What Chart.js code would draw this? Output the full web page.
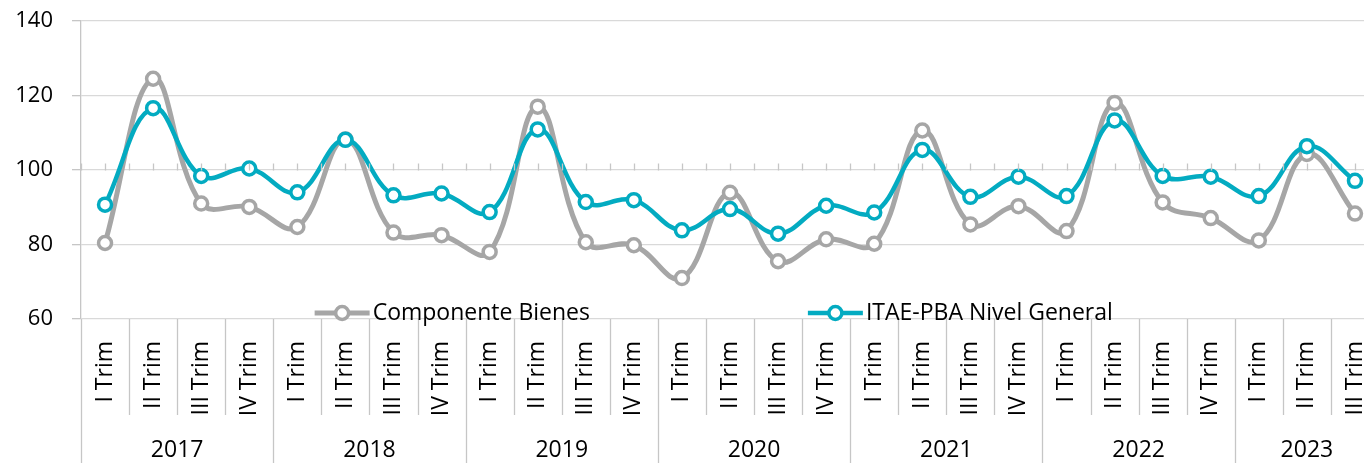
<!DOCTYPE html>
<html>
<head>
<meta charset="utf-8">
<script src="https://cdn.jsdelivr.net/npm/chart.js@4"></script>
<style>
  html, body { margin: 0; padding: 0; background: #fff; overflow: hidden; }
  #wrap { width: 1364px; height: 463px; overflow: hidden; position: relative; }
</style>
</head>
<body>
<div id="wrap"><canvas id="chart" width="1389" height="463"></canvas></div>
<script>
// data
const years = ["2017", "2018", "2019", "2020", "2021", "2022", "2023"];
const quarters = ["I Trim", "II Trim", "III Trim", "IV Trim"];
const quartersPerYear = [4, 4, 4, 4, 4, 4, 3];

const bienes = [
  80.4, 124.5, 91.0, 90.1,
  84.7, 108.2, 83.2, 82.5,
  78.0, 117.0, 80.6, 79.8,
  71.0, 93.9, 75.5, 81.4,
  80.2, 110.6, 85.4, 90.3,
  83.6, 118.0, 91.3, 87.1,
  81.1, 104.3, 88.3
];
const general = [
  90.7, 116.6, 98.4, 100.4,
  94.0, 108.1, 93.2, 93.7,
  88.7, 110.9, 91.4, 91.9,
  83.8, 89.5, 82.9, 90.4,
  88.6, 105.4, 92.8, 98.2,
  93.0, 113.3, 98.4, 98.2,
  93.0, 106.4, 97.1
];

const labels = [];
quartersPerYear.forEach((n) => {
  for (let q = 0; q < n; q++) labels.push(quarters[q]);
});

const FONT = "'Open Sans', sans-serif";
const GRAY = "#A6A6A6";
const TEAL = "#03ABC1";
const LINE = "#C6C6C6";

// year row, separators and the little ticks on the 100 line
const groupAxis = {
  id: "groupAxis",
  afterDraw(chart) {
    const ctx = chart.ctx;
    const x = chart.scales.x;
    const y = chart.scales.y;
    const base = y.getPixelForValue(60);
    const bottom = chart.height;
    const n = labels.length;

    const yearEdges = [0];
    quartersPerYear.forEach((c, i) => yearEdges.push(yearEdges[i] + c));

    ctx.save();
    ctx.strokeStyle = LINE;
    ctx.lineWidth = 1.3;
    for (let k = 0; k <= n; k++) {
      const px = Math.round(x.getPixelForValue(k - 0.5)) + 0.5;
      const long = yearEdges.includes(k);
      ctx.beginPath();
      ctx.moveTo(px, base);
      ctx.lineTo(px, long ? bottom : base + 96);
      ctx.stroke();
    }

    // tick marks sitting on the 100 line
    const y100 = Math.round(y.getPixelForValue(100)) + 0.5;
    for (let k = 0; k <= 2 * n; k++) {
      const px = Math.round(x.getPixelForValue(k / 2 - 0.5)) + 0.5;
      ctx.beginPath();
      ctx.moveTo(px, y100 - 7);
      ctx.lineTo(px, y100);
      ctx.stroke();
    }

    ctx.fillStyle = "#000";
    ctx.font = "23px " + FONT;
    ctx.textAlign = "center";
    ctx.textBaseline = "middle";
    years.forEach((yr, i) => {
      const a = x.getPixelForValue(yearEdges[i] - 0.5);
      const b = x.getPixelForValue(yearEdges[i + 1] - 0.5);
      ctx.fillText(yr, (a + b) / 2, bottom - 13);
    });
    ctx.restore();
  },
};

// legend drawn inside the plot, near the bottom
const innerLegend = {
  id: "innerLegend",
  afterDraw(chart) {
    const ctx = chart.ctx;
    const area = chart.chartArea;
    const cy = area.bottom - 6;
    ctx.save();
    ctx.font = "23px " + FONT;
    ctx.textBaseline = "middle";
    ctx.textAlign = "left";
    chart.data.datasets.forEach((ds, i) => {
      const x0 = area.left + area.width * (0.18 + i * 0.38);
      ctx.strokeStyle = ds.borderColor;
      ctx.lineWidth = ds.borderWidth;
      ctx.beginPath();
      ctx.moveTo(x0, cy);
      ctx.lineTo(x0 + 55, cy);
      ctx.stroke();
      ctx.fillStyle = "#fff";
      ctx.lineWidth = ds.pointBorderWidth;
      ctx.beginPath();
      ctx.arc(x0 + 27.5, cy, ds.pointRadius, 0, Math.PI * 2);
      ctx.fill();
      ctx.stroke();
      ctx.fillStyle = "#000";
      ctx.fillText(ds.label, x0 + 58, cy);
    });
    ctx.restore();
  },
};

const chart = new Chart(document.getElementById("chart"), {
  type: "line",
  data: {
    labels: labels,
    datasets: [
      {
        label: "Componente Bienes",
        data: bienes,
        borderColor: GRAY,
        borderWidth: 5,
        pointRadius: 6.5,
        pointBorderWidth: 3.5,
        pointBackgroundColor: "#fff",
        pointBorderColor: GRAY,
        tension: 0.4,
        order: 2,
      },
      {
        label: "ITAE-PBA Nivel General",
        data: general,
        borderColor: TEAL,
        borderWidth: 4.5,
        pointRadius: 6.5,
        pointBorderWidth: 3.5,
        pointBackgroundColor: "#fff",
        pointBorderColor: TEAL,
        tension: 0.4,
        order: 1,
      },
    ],
  },
  options: {
    responsive: false,
    devicePixelRatio: 1,
    animation: false,
    layout: { padding: { top: 21, right: 1, left: 0, bottom: 0 } },
    plugins: {
      legend: { display: false },
      tooltip: { enabled: false },
    },
    scales: {
      x: {
        type: "category",
        offset: true,
        grid: { display: false },
        border: { display: false },
        ticks: {
          autoSkip: false,
          minRotation: 90,
          maxRotation: 90,
          padding: 14,
          color: "#000",
          font: { family: FONT, size: 23 },
        },
        afterFit(scale) {
          scale.height = 144;
          scale.paddingLeft = 0;
          scale.paddingRight = 0;
          scale.paddingTop = 0;
        },
      },
      y: {
        min: 60,
        max: 140,
        ticks: {
          stepSize: 20,
          padding: 19,
          color: "#000",
          font: { family: FONT, size: 22 },
        },
        grid: { color: "#D9D9D9", lineWidth: 1.3, tickLength: 9, tickColor: LINE },
        border: { color: LINE, width: 1.3 },
        afterFit(scale) {
          scale.width = 81;
          scale.paddingTop = 0;
          scale.paddingBottom = 0;
        },
      },
    },
  },
  plugins: [groupAxis, innerLegend],
});
</script>
</body>
</html>
